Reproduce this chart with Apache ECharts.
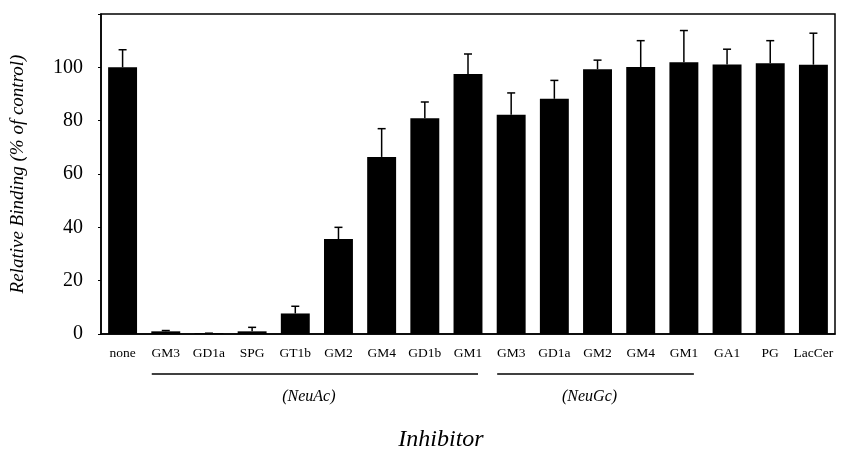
<!DOCTYPE html>
<html>
<head>
<meta charset="utf-8">
<script src="https://cdn.jsdelivr.net/npm/echarts@6/dist/echarts.min.js"></script>
<style>
  html, body { margin: 0; padding: 0; background: #fff; }
  #chart { width: 841px; height: 452px; }
</style>
</head>
<body>
<div id="chart"></div>
<script>
const categories = ['none', 'GM3', 'GD1a', 'SPG', 'GT1b', 'GM2', 'GM4', 'GD1b', 'GM1',
  'GM3', 'GD1a', 'GM2', 'GM4', 'GM1', 'GA1', 'PG', 'LacCer']
const values = [100, 1, 0.3, 1, 7.7, 35.6, 66.4, 80.9, 97.5,
  82.2, 88.2, 99.3, 100.1, 101.9, 101.1, 101.5, 101]
const errors = [6.6, 0.3, 0, 1.5, 2.7, 4.4, 10.6, 6.1, 7.5,
  8.2, 6.9, 3.4, 9.9, 11.9, 5.7, 8.5, 11.8]
const yTicks = [0, 20, 40, 60, 80, 100]
// groups: [label, first index, last index]
const groups = [['(NeuAc)', 1, 8], ['(NeuGc)', 9, 13]]

const serif = '"Liberation Serif", "DejaVu Serif", serif'
const chart = echarts.init(document.getElementById('chart'))

const option = {
  animation: false,
  grid: {
    left: 100,
    right: 6,
    top: 14,
    bottom: 118,
    show: true,
    borderColor: '#000',
    borderWidth: 1.5
  },
  xAxis: {
    type: 'category',
    data: categories,
    axisLine: { lineStyle: { color: '#000', width: 1.5 } },
    axisTick: { show: false },
    axisLabel: {
      interval: 0,
      color: '#000',
      fontFamily: serif,
      fontSize: 13.5,
      margin: 12
    }
  },
  yAxis: {
    type: 'value',
    min: 0,
    max: 120,
    interval: 20,
    name: 'Relative Binding (% of control)',
    nameLocation: 'middle',
    nameGap: 74,
    nameTextStyle: {
      color: '#000',
      fontFamily: serif,
      fontStyle: 'italic',
      fontSize: 19
    },
    axisLine: { show: true, lineStyle: { color: '#000', width: 1.5 } },
    axisTick: { show: true, length: 3, lineStyle: { color: '#000' } },
    splitLine: { show: false },
    axisLabel: {
      color: '#000',
      fontFamily: serif,
      fontSize: 20,
      margin: 18,
      formatter: v => yTicks.includes(v) ? String(v) : ''
    }
  },
  series: [
    {
      type: 'bar',
      data: values,
      barCategoryGap: '33%',
      itemStyle: { color: '#000' }
    },
    {
      type: 'custom',
      data: values.map((v, i) => [i, v, v + errors[i]]),
      encode: { x: 0, y: [1, 2] },
      z: 3,
      renderItem: (params, api) => {
        const lo = api.coord([api.value(0), api.value(1)])
        const hi = api.coord([api.value(0), api.value(2)])
        const cap = 4
        return {
          type: 'group',
          children: [
            { type: 'line', shape: { x1: lo[0], y1: lo[1], x2: hi[0], y2: hi[1] },
              style: { stroke: '#000', lineWidth: 1.5 } },
            { type: 'line', shape: { x1: hi[0] - cap, y1: hi[1], x2: hi[0] + cap, y2: hi[1] },
              style: { stroke: '#000', lineWidth: 1.5 } }
          ]
        }
      }
    }
  ]
}
chart.setOption(option)

// group underlines and labels, placed from the category scale
const graphic = []
const lineY = 374
groups.forEach(([label, a, b]) => {
  const x1 = chart.convertToPixel({ xAxisIndex: 0 }, a) - 14
  const x2 = chart.convertToPixel({ xAxisIndex: 0 }, b) + 10
  graphic.push({
    type: 'line',
    shape: { x1, y1: lineY, x2, y2: lineY },
    style: { stroke: '#000', lineWidth: 1.5 }
  })
  graphic.push({
    type: 'text',
    x: (x1 + x2) / 2 - 6,
    y: 397,
    style: {
      text: label,
      fill: '#000',
      font: 'italic 16px ' + serif,
      align: 'center',
      verticalAlign: 'middle'
    }
  })
})
graphic.push({
  type: 'text',
  x: 441,
  y: 440,
  style: {
    text: 'Inhibitor',
    fill: '#000',
    font: 'italic 24px ' + serif,
    align: 'center',
    verticalAlign: 'middle'
  }
})
chart.setOption({ graphic })
</script>
</body>
</html>
